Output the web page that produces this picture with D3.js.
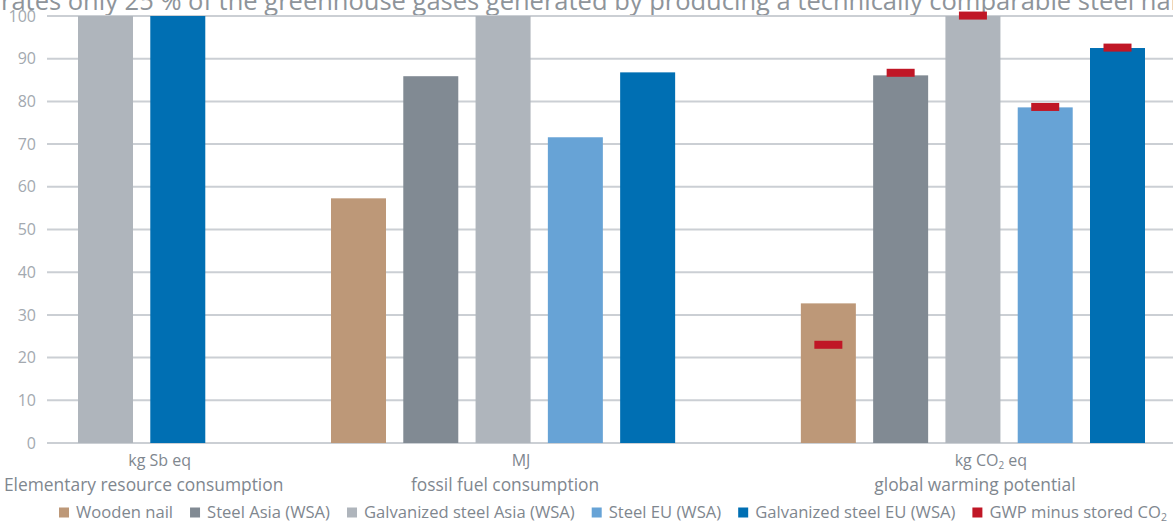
<!DOCTYPE html>
<html>
<head>
<meta charset="utf-8">
<script src="https://cdn.jsdelivr.net/npm/d3@7"></script>
<style>
  body { margin: 0; background: #fff; }
  svg { display: block; font-family: "Open Sans", sans-serif; }
</style>
</head>
<body>
<div id="chart"></div>
<script>
// chart values
const categories = ["Elementary resource consumption", "fossil fuel consumption", "global warming potential"];
const units = ["kg Sb eq", "MJ", "kg CO2 eq"];
const seriesNames = ["Wooden nail", "Steel Asia (WSA)", "Galvanized steel Asia (WSA)", "Steel EU (WSA)", "Galvanized steel EU (WSA)"];
const woodenNail = [null, 57.3, 32.7];
const steelAsia = [null, 85.9, 86.1];
const galvAsia = [100, 100, 100];
const steelEU = [null, 71.6, 78.6];
const galvEU = [100, 86.8, 92.5];
// GWP minus stored CO2, only for global warming potential
const gwpMinusStored = [23.0, 86.7, 100.1, 78.7, 92.6];
const yTicks = [0, 10, 20, 30, 40, 50, 60, 70, 80, 90, 100];
const titleText = "rates only 25 % of the greenhouse gases generated by producing a technically comparable steel nail";

const colors = ["#bd9878", "#818a93", "#afb5bc", "#67a3d6", "#006fb3"];
const markerColor = "#c01726";
const seriesValues = [woodenNail, steelAsia, galvAsia, steelEU, galvEU];

const width = 1173, height = 523;
const svg = d3.select("#chart").append("svg")
    .attr("width", width)
    .attr("height", height);

// title line, cut off at the top like the reference
svg.append("text")
    .attr("x", 1)
    .attr("y", 9.5)
    .attr("fill", "#8e949a")
    .style("font-size", "25.5px")
    .text(titleText);

const y = d3.scaleLinear().domain([0, 100]).range([443, 16]);

// grid lines
svg.append("g")
    .selectAll("line")
    .data(yTicks)
    .join("line")
    .attr("x1", 47)
    .attr("x2", width)
    .attr("y1", d => y(d))
    .attr("y2", d => y(d))
    .attr("stroke", "#cbcfd4")
    .attr("stroke-width", 2);

// y axis labels
const yAxis = svg.append("g")
    .attr("transform", "translate(36,0)")
    .call(d3.axisLeft(y).tickValues(yTicks).tickSize(0).tickPadding(0));
yAxis.select(".domain").remove();
yAxis.selectAll("text")
    .attr("fill", "#a3a9b0")
    .style("font-size", "16px")
    .style("font-family", "Open Sans, sans-serif");

// bar slots: groups follow each other with a gap of 1.5 slots
const groups = [];
let start = 0;
categories.forEach((c, i) => {
    const present = seriesValues.map((s, j) => j).filter(j => seriesValues[j][i] != null);
    groups.push({ cat: c, unit: units[i], index: i, start: start, series: present });
    start += present.length + 1.5;
});
const barW = 55;
const x = d3.scaleLinear().domain([0, 14]).range([78, 1090]);

const bars = [];
groups.forEach(g => {
    g.series.forEach((j, k) => {
        bars.push({ group: g.index, series: j, slot: g.start + k, value: seriesValues[j][g.index] });
    });
});

svg.append("g")
    .selectAll("rect")
    .data(bars)
    .join("rect")
    .attr("x", d => x(d.slot))
    .attr("y", d => y(d.value))
    .attr("width", barW)
    .attr("height", d => y(0) - y(d.value))
    .attr("fill", d => colors[d.series]);

// red markers on the global warming bars
const gwpBars = bars.filter(d => d.group === 2);
svg.append("g")
    .selectAll("rect")
    .data(gwpBars)
    .join("rect")
    .attr("x", d => x(d.slot) + barW / 2 - 14)
    .attr("y", d => y(gwpMinusStored[d.series]) - 4)
    .attr("width", 28)
    .attr("height", 8)
    .attr("fill", markerColor);

// category and unit labels
const groupCenter = g => x(g.start + (g.series.length - 1) / 2) + barW / 2;

const unitText = svg.append("g")
    .selectAll("text")
    .data(groups)
    .join("text")
    .attr("x", g => groupCenter(g) + 18)
    .attr("y", 466)
    .attr("text-anchor", "middle")
    .attr("fill", "#7f878f")
    .style("font-size", "16px");
unitText.each(function (g) {
    const t = d3.select(this);
    if (g.unit.indexOf("CO2") >= 0) {
        t.append("tspan").text("kg CO");
        t.append("tspan").text("2").attr("dy", 3).style("font-size", "10px");
        t.append("tspan").text("  eq").attr("dy", -3);
    } else {
        t.text(g.unit);
    }
});

svg.append("g")
    .selectAll("text")
    .data(groups)
    .join("text")
    .attr("x", g => groupCenter(g) + 2)
    .attr("y", 491)
    .attr("text-anchor", "middle")
    .attr("fill", "#7f878f")
    .style("font-size", "17.4px")
    .text(g => g.cat);

// legend
const legendItems = seriesNames.map((n, i) => ({ name: n, color: colors[i] }));
legendItems.push({ name: "GWP minus stored CO2", color: markerColor, sub: true });

const legend = svg.append("g").attr("transform", "translate(0,518)");
let lx = 59;
legendItems.forEach(item => {
    const g = legend.append("g").attr("transform", `translate(${lx},0)`);
    g.append("rect")
        .attr("x", 0)
        .attr("y", -10.5)
        .attr("width", 10)
        .attr("height", 10)
        .attr("fill", item.color);
    const t = g.append("text")
        .attr("x", 17)
        .attr("y", 0)
        .attr("fill", "#7f878f")
        .style("font-size", "16.6px");
    if (item.sub) {
        t.append("tspan").text("GWP minus stored CO");
        t.append("tspan").text("2").attr("dy", 3).style("font-size", "10.5px");
    } else {
        t.text(item.name);
    }
    lx += 17 + t.node().getComputedTextLength() + 17;
});
</script>
</body>
</html>
